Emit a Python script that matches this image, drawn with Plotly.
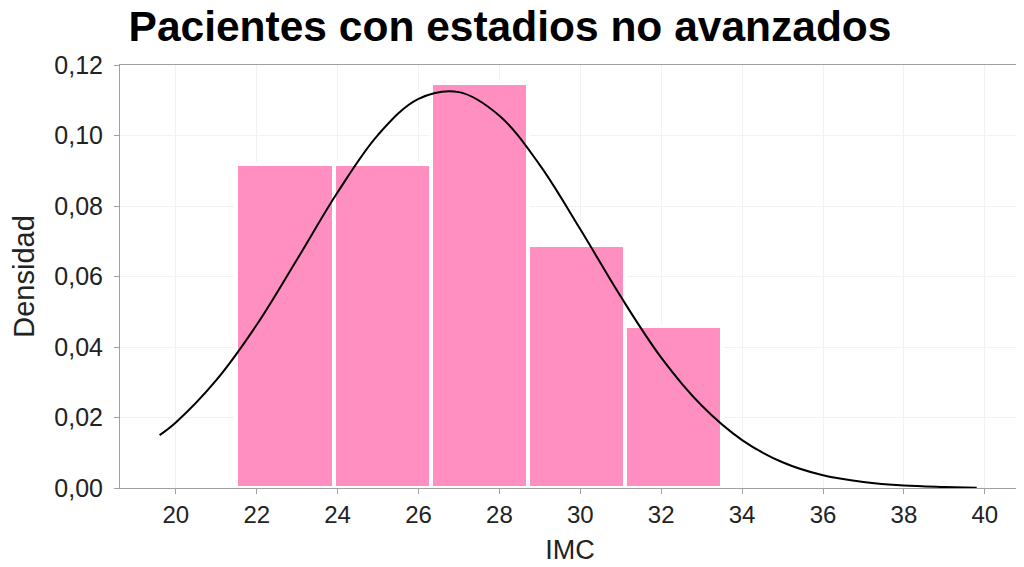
import numpy as np
import plotly.graph_objects as go

# Histogram (density)
bin_edges = [21.5, 23.9, 26.3, 28.7, 31.1, 33.5]
bar_density = [0.092, 0.092, 0.115, 0.069, 0.046]

# Fitted density curve
curve_x = [19.6, 20, 21, 22, 23, 24, 25, 26, 27, 28, 29, 30, 31, 32, 33,
           34, 35, 36, 37, 38, 39, 39.8]
curve_y = [0.0150, 0.0186, 0.0306, 0.0463, 0.0649, 0.0839, 0.1002, 0.1104,
           0.1123, 0.1056, 0.0916, 0.0734, 0.0543, 0.0370, 0.0234,
           0.0136, 0.0073, 0.0036, 0.0017, 0.0007, 0.0003, 0.0001]

x_ticks = [20, 22, 24, 26, 28, 30, 32, 34, 36, 38, 40]
y_ticks = [0.00, 0.02, 0.04, 0.06, 0.08, 0.10, 0.12]

edges = np.array(bin_edges)
centers = (edges[:-1] + edges[1:]) / 2
widths = edges[1:] - edges[:-1]

FONT = "Liberation Sans, Arial, sans-serif"

fig = go.Figure()
fig.add_trace(go.Bar(
    x=centers, y=bar_density, width=widths,
    marker=dict(color="#ff8fc0", line=dict(color="white", width=4)),
    showlegend=False, hoverinfo="x+y",
))
fig.add_trace(go.Scatter(
    x=curve_x, y=curve_y, mode="lines",
    line=dict(color="black", width=2, shape="spline", smoothing=1.0),
    showlegend=False,
))

W, H = 1016, 559  # page body has an 8px margin
fig.update_layout(
    width=W, height=H,
    margin=dict(l=112, r=4, t=57, b=79),
    paper_bgcolor="white", plot_bgcolor="white",
    separators=",.",
    font=dict(family=FONT, size=24, color="#222222"),
    title=dict(text="<b>Pacientes con estadios no avanzados</b>",
               x=502 / W, xref="container", xanchor="center",
               y=1 - 18 / H, yref="container", yanchor="middle",
               font=dict(family=FONT, size=42.5, color="black")),
    bargap=0,
)
fig.update_xaxes(
    range=[18.62, 40.87], tickvals=x_ticks, ticktext=[str(v) for v in x_ticks],
    showline=True, linecolor="#a0a0a0", linewidth=1, mirror=True,
    ticks="outside", ticklen=5, tickcolor="#a0a0a0",
    showgrid=True, gridcolor="#f2f2f2", zeroline=False, automargin=False,
    tickfont=dict(size=24, color="#222222"),
    title=dict(text="IMC", font=dict(size=27, color="#222222"), standoff=13),
)
fig.update_yaxes(
    range=[0, 0.12], tickvals=y_ticks, tickformat=".2f",
    showline=True, linecolor="#a0a0a0", linewidth=1, mirror=True,
    ticks="outside", ticklen=5, tickcolor="#a0a0a0", ticklabelstandoff=6,
    showgrid=True, gridcolor="#f2f2f2", zeroline=False, automargin=False,
    tickfont=dict(size=25, color="#222222"),
    title=dict(text="Densidad", font=dict(size=29, color="#222222"), standoff=13),
)

fig.write_html("out.html")
